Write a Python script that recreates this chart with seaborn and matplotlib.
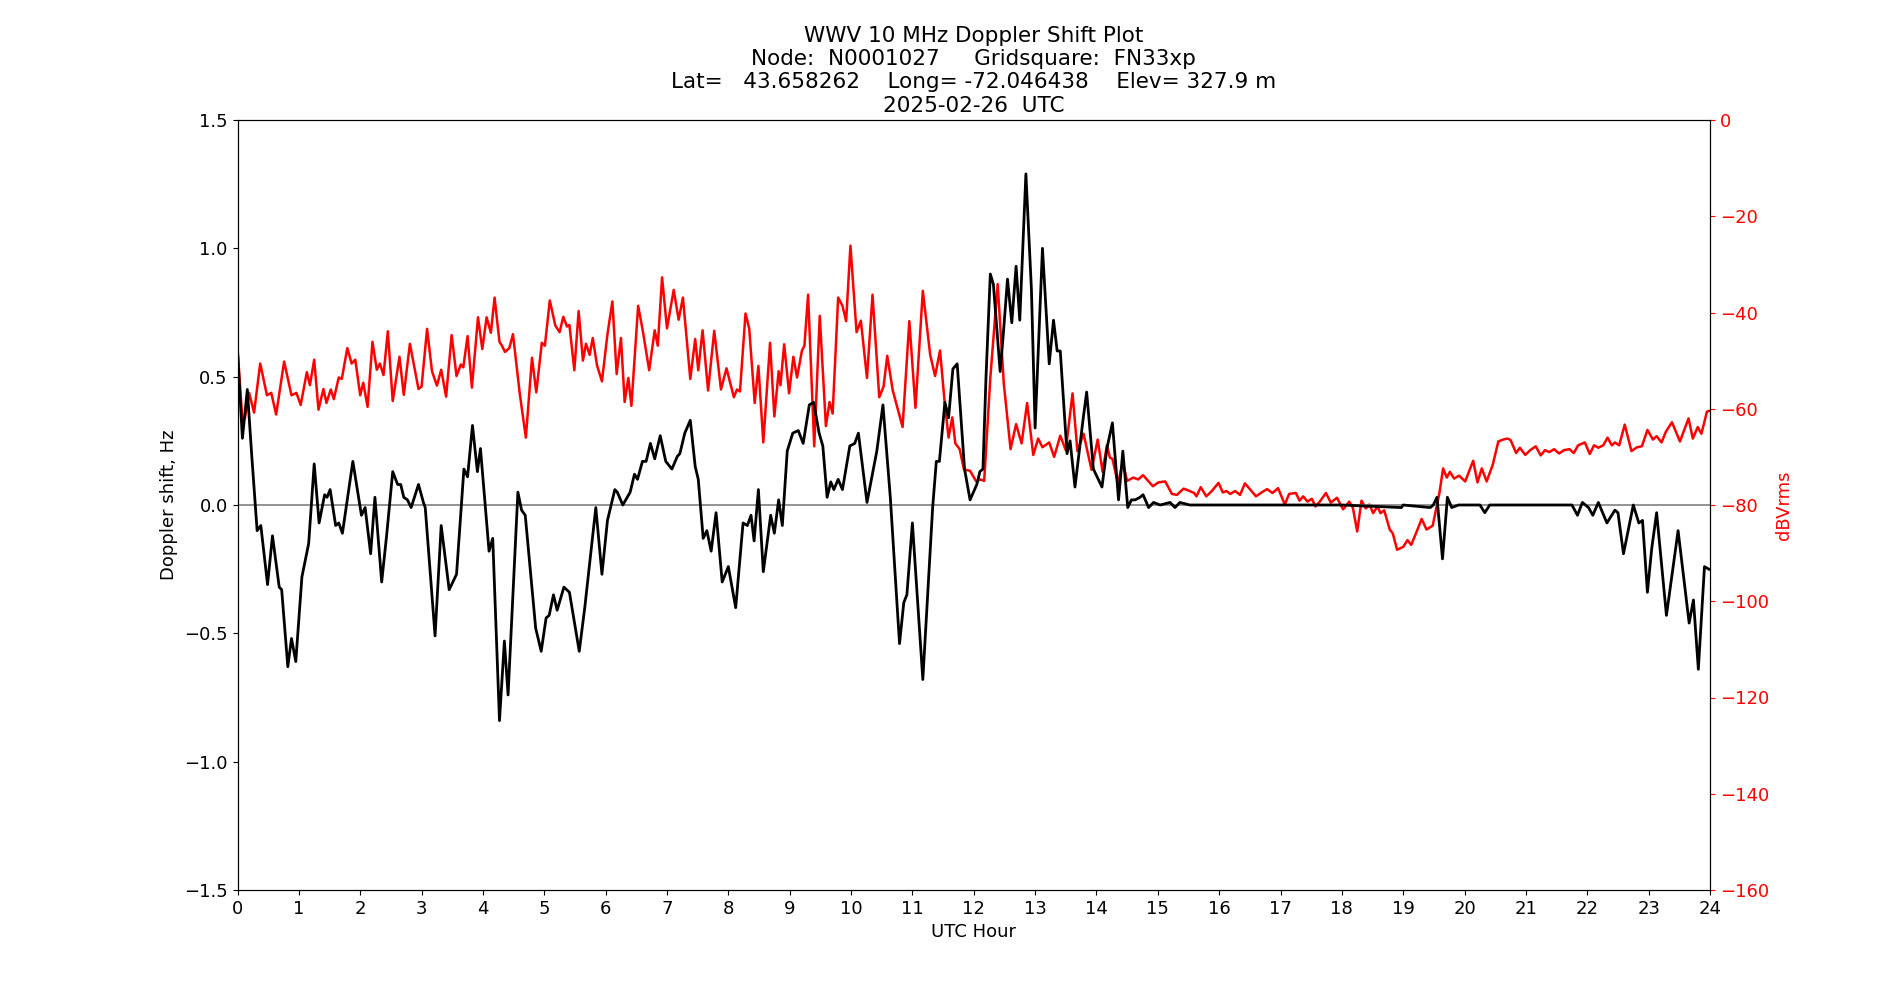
"""
WWV 10 MHz Doppler shift and received power, one day
"""
import matplotlib
matplotlib.use("Agg")
import matplotlib.pyplot as plt
import seaborn as sns
import pandas as pd

# Doppler shift (Hz) vs UTC hour
doppler_hours = [
    0.0, 0.08, 0.16, 0.23, 0.32, 0.38, 0.49, 0.57, 0.68, 0.72, 0.82, 0.88, 0.95, 1.05, 1.16,
    1.25, 1.33, 1.42, 1.46, 1.51, 1.6, 1.65, 1.71, 1.88, 2.02, 2.08, 2.17, 2.24, 2.35, 2.43,
    2.53, 2.61, 2.66, 2.71, 2.77, 2.83, 2.95, 3.03, 3.06, 3.22, 3.32, 3.45, 3.57, 3.69, 3.75,
    3.83, 3.91, 3.96, 4.1, 4.16, 4.27, 4.35, 4.41, 4.57, 4.63, 4.69, 4.86, 4.95, 5.03, 5.08,
    5.15, 5.21, 5.32, 5.41, 5.57, 5.66, 5.84, 5.94, 6.03, 6.15, 6.19, 6.28, 6.4, 6.47, 6.52,
    6.6, 6.66, 6.73, 6.8, 6.89, 6.98, 7.08, 7.17, 7.21, 7.29, 7.38, 7.46, 7.51, 7.59, 7.65,
    7.72, 7.8, 7.9, 8.0, 8.12, 8.24, 8.31, 8.37, 8.42, 8.49, 8.57, 8.69, 8.75, 8.82, 8.88,
    8.96, 9.05, 9.14, 9.22, 9.32, 9.39, 9.48, 9.54, 9.61, 9.67, 9.72, 9.79, 9.86, 9.98, 10.06,
    10.12, 10.26, 10.42, 10.52, 10.64, 10.79, 10.86, 10.91, 11.0, 11.17, 11.33, 11.39, 11.44,
    11.53, 11.59, 11.66, 11.73, 11.85, 11.94, 12.05, 12.1, 12.15, 12.2, 12.27, 12.32, 12.43,
    12.48, 12.55, 12.62, 12.69, 12.75, 12.85, 12.94, 13.0, 13.12, 13.23, 13.3, 13.36, 13.41,
    13.52, 13.57, 13.65, 13.78, 13.84, 13.95, 14.09, 14.17, 14.26, 14.36, 14.43, 14.51, 14.57,
    14.63, 14.71, 14.76, 14.85, 14.93, 15.04, 15.2, 15.28, 15.36, 15.52, 16.0, 17.0, 18.0,
    18.97, 19.0, 19.44, 19.49, 19.55, 19.64, 19.72, 19.79, 19.9, 20.25, 20.33, 20.41, 21.0,
    21.75, 21.84, 21.92, 22.02, 22.09, 22.18, 22.32, 22.45, 22.5, 22.59, 22.75, 22.84, 22.9,
    22.98, 23.05, 23.13, 23.29, 23.48, 23.66, 23.73, 23.81, 23.91, 23.98,
]
doppler_hz = [
    0.6, 0.26, 0.45, 0.2, -0.1, -0.08, -0.31, -0.12, -0.32, -0.33, -0.63, -0.52, -0.61, -0.28,
    -0.15, 0.16, -0.07, 0.04, 0.03, 0.06, -0.08, -0.07, -0.11, 0.17, -0.04, -0.01, -0.19, 0.03,
    -0.3, -0.12, 0.13, 0.08, 0.08, 0.03, 0.02, -0.01, 0.08, 0.01, -0.01, -0.51, -0.08, -0.33,
    -0.27, 0.14, 0.11, 0.31, 0.13, 0.22, -0.18, -0.13, -0.84, -0.53, -0.74, 0.05, -0.02, -0.04,
    -0.48, -0.57, -0.44, -0.43, -0.35, -0.41, -0.32, -0.34, -0.57, -0.4, -0.01, -0.27, -0.06,
    0.06, 0.05, 0.0, 0.05, 0.12, 0.1, 0.17, 0.17, 0.24, 0.18, 0.27, 0.17, 0.14, 0.19, 0.2,
    0.28, 0.33, 0.15, 0.1, -0.13, -0.1, -0.18, -0.03, -0.3, -0.24, -0.4, -0.07, -0.08, -0.04,
    -0.14, 0.06, -0.26, -0.04, -0.11, 0.02, -0.08, 0.21, 0.28, 0.29, 0.24, 0.39, 0.4, 0.28,
    0.23, 0.03, 0.09, 0.06, 0.1, 0.06, 0.23, 0.24, 0.28, 0.01, 0.21, 0.39, 0.03, -0.54, -0.38,
    -0.35, -0.07, -0.68, -0.01, 0.17, 0.17, 0.4, 0.34, 0.53, 0.55, 0.14, 0.02, 0.08, 0.13,
    0.14, 0.5, 0.9, 0.86, 0.52, 0.66, 0.88, 0.71, 0.93, 0.72, 1.29, 0.84, 0.3, 1.0, 0.55, 0.72,
    0.6, 0.6, 0.2, 0.25, 0.07, 0.33, 0.44, 0.14, 0.07, 0.22, 0.32, 0.02, 0.21, -0.01, 0.02,
    0.02, 0.03, 0.04, -0.01, 0.01, 0.0, 0.01, -0.01, 0.01, 0.0, 0.0, 0.0, 0.0, -0.01, 0.0,
    -0.01, 0.0, 0.03, -0.21, 0.03, -0.01, 0.0, 0.0, -0.03, 0.0, 0.0, 0.0, -0.04, 0.01, -0.01,
    -0.04, 0.01, -0.07, -0.02, -0.03, -0.19, 0.0, -0.07, -0.06, -0.34, -0.17, -0.03, -0.43,
    -0.1, -0.46, -0.37, -0.64, -0.24, -0.25,
]

# received power (dBVrms) vs UTC hour
power_hours = [
    0.0, 0.08, 0.12, 0.19, 0.27, 0.37, 0.48, 0.55, 0.63, 0.76, 0.88, 0.96, 1.03, 1.13, 1.18,
    1.25, 1.32, 1.4, 1.45, 1.52, 1.57, 1.65, 1.7, 1.79, 1.86, 1.92, 2.0, 2.05, 2.12, 2.2,
    2.27, 2.32, 2.38, 2.45, 2.53, 2.64, 2.71, 2.81, 2.95, 3.0, 3.09, 3.17, 3.25, 3.32, 3.4,
    3.49, 3.57, 3.64, 3.68, 3.75, 3.82, 3.92, 3.99, 4.06, 4.13, 4.19, 4.27, 4.31, 4.36, 4.43,
    4.49, 4.6, 4.7, 4.8, 4.87, 4.96, 5.01, 5.09, 5.18, 5.25, 5.31, 5.37, 5.41, 5.49, 5.56,
    5.63, 5.68, 5.74, 5.79, 5.86, 5.94, 6.03, 6.11, 6.18, 6.25, 6.31, 6.37, 6.42, 6.53, 6.61,
    6.71, 6.8, 6.85, 6.92, 7.0, 7.11, 7.19, 7.26, 7.38, 7.46, 7.51, 7.58, 7.67, 7.77, 7.88,
    7.97, 8.09, 8.14, 8.19, 8.28, 8.34, 8.43, 8.49, 8.57, 8.68, 8.75, 8.82, 8.85, 8.91, 8.99,
    9.06, 9.12, 9.2, 9.24, 9.3, 9.4, 9.49, 9.59, 9.65, 9.7, 9.79, 9.86, 9.92, 9.99, 10.09,
    10.16, 10.26, 10.35, 10.46, 10.53, 10.59, 10.68, 10.84, 10.95, 11.05, 11.17, 11.29, 11.37,
    11.45, 11.53, 11.59, 11.65, 11.7, 11.77, 11.84, 11.94, 12.04, 12.11, 12.17, 12.27, 12.39,
    12.49, 12.6, 12.69, 12.78, 12.87, 12.97, 13.05, 13.12, 13.23, 13.31, 13.41, 13.5, 13.61,
    13.69, 13.79, 13.92, 14.02, 14.1, 14.17, 14.22, 14.26, 14.35, 14.43, 14.5, 14.6, 14.68,
    14.76, 14.92, 15.01, 15.12, 15.23, 15.31, 15.42, 15.52, 15.59, 15.63, 15.7, 15.79, 15.88,
    15.99, 16.06, 16.12, 16.18, 16.26, 16.34, 16.42, 16.5, 16.6, 16.69, 16.78, 16.87, 16.96,
    17.07, 17.14, 17.25, 17.31, 17.37, 17.44, 17.51, 17.57, 17.64, 17.74, 17.82, 17.92, 18.02,
    18.12, 18.18, 18.25, 18.32, 18.39, 18.45, 18.51, 18.58, 18.63, 18.69, 18.78, 18.83, 18.9,
    19.0, 19.07, 19.13, 19.22, 19.3, 19.38, 19.48, 19.59, 19.65, 19.71, 19.76, 19.83, 19.91,
    20.01, 20.14, 20.21, 20.28, 20.36, 20.46, 20.55, 20.63, 20.7, 20.75, 20.84, 20.9, 20.99,
    21.07, 21.16, 21.24, 21.31, 21.38, 21.46, 21.54, 21.62, 21.71, 21.78, 21.85, 21.96, 22.04,
    22.11, 22.18, 22.26, 22.33, 22.4, 22.45, 22.52, 22.61, 22.72, 22.81, 22.89, 22.98, 23.07,
    23.13, 23.21, 23.28, 23.38, 23.51, 23.65, 23.72, 23.8, 23.86, 23.95, 24.0,
]
power_db = [
    -47.3, -62.4, -62.0, -56.7, -60.8, -50.6, -57.2, -56.7, -61.2, -50.2, -57.2, -56.7, -59.2,
    -52.4, -55.1, -49.8, -60.2, -55.9, -58.8, -56.0, -58.0, -53.5, -53.8, -47.4, -50.6, -49.8,
    -57.2, -54.6, -59.6, -46.1, -51.9, -50.6, -53.0, -43.9, -58.4, -49.2, -57.1, -46.5, -55.9,
    -55.4, -43.4, -52.2, -55.2, -51.9, -57.5, -44.7, -53.2, -50.8, -51.4, -44.9, -55.6, -41.0,
    -47.6, -41.0, -44.2, -36.9, -46.1, -46.9, -48.2, -47.4, -44.5, -56.8, -66.0, -49.4, -56.6,
    -46.3, -46.9, -37.5, -42.7, -44.1, -40.9, -42.9, -42.6, -52.0, -39.7, -50.0, -46.5, -48.8,
    -45.3, -51.0, -54.3, -44.5, -37.7, -52.8, -45.3, -58.6, -53.6, -59.4, -38.6, -44.1, -52.0,
    -43.7, -46.9, -32.7, -43.3, -35.3, -41.5, -36.9, -53.8, -45.5, -52.0, -43.7, -56.2, -43.8,
    -56.0, -51.6, -57.6, -56.0, -56.4, -40.2, -43.3, -58.8, -51.1, -67.0, -46.3, -61.6, -52.2,
    -55.1, -46.6, -56.8, -49.2, -53.5, -47.9, -46.9, -36.3, -67.8, -40.7, -63.6, -58.6, -61.0,
    -36.9, -38.6, -41.8, -26.1, -44.1, -41.7, -53.6, -36.3, -57.6, -55.4, -49.0, -56.2, -63.8,
    -41.8, -59.8, -35.5, -48.8, -53.2, -47.9, -59.2, -66.0, -61.8, -67.2, -68.4, -72.6, -72.9,
    -75.1, -74.7, -75.0, -53.6, -34.1, -54.8, -68.4, -63.2, -67.2, -58.8, -69.6, -66.2, -68.0,
    -67.0, -70.0, -65.6, -68.6, -56.8, -68.8, -65.2, -72.7, -66.4, -73.1, -67.6, -70.2, -70.4,
    -75.5, -71.2, -75.0, -74.3, -74.7, -73.8, -76.1, -75.3, -75.1, -77.7, -77.9, -76.6, -77.1,
    -77.5, -78.2, -76.3, -78.2, -77.1, -75.4, -77.4, -77.1, -77.7, -77.1, -77.9, -75.5, -76.7,
    -78.2, -77.4, -76.7, -77.5, -76.5, -79.9, -77.7, -77.5, -79.1, -78.2, -79.3, -78.7, -80.3,
    -79.3, -77.5, -79.5, -78.5, -80.9, -79.3, -80.6, -85.5, -79.1, -80.7, -79.9, -81.7, -80.3,
    -81.7, -81.1, -85.1, -85.9, -89.3, -88.7, -87.3, -88.3, -85.5, -82.9, -85.1, -84.3, -77.5,
    -72.4, -74.3, -73.1, -74.5, -73.9, -75.1, -70.8, -75.3, -72.4, -75.1, -71.6, -66.8, -66.4,
    -66.2, -66.5, -69.2, -68.1, -69.6, -68.6, -67.8, -69.7, -68.6, -69.0, -68.4, -69.3, -68.6,
    -68.4, -69.2, -67.6, -67.0, -69.4, -67.6, -68.1, -67.6, -66.0, -67.6, -67.0, -67.6, -63.3,
    -68.8, -68.0, -67.8, -64.4, -66.4, -65.7, -67.0, -64.8, -62.8, -66.8, -62.0, -66.2, -63.8,
    -65.2, -60.6, -60.4,
]

doppler = pd.DataFrame({"hour": doppler_hours, "shift": doppler_hz})
power = pd.DataFrame({"hour": power_hours, "dbv": power_db})

title = ("WWV 10 MHz Doppler Shift Plot\n"
         "Node:  N0001027     Gridsquare:  FN33xp\n"
         "Lat=   43.658262    Long= -72.046438    Elev= 327.9 m\n"
         "2025-02-26  UTC")

fig, ax = plt.subplots(figsize=(19, 10), dpi=100)
ax2 = ax.twinx()

ax.axhline(0, color="grey", linewidth=1.2, zorder=1)
sns.lineplot(data=doppler, x="hour", y="shift", ax=ax, color="black", linewidth=2, zorder=3)
sns.lineplot(data=power, x="hour", y="dbv", ax=ax2, color="red", linewidth=1.8)

# doppler trace drawn on top of power trace
ax.set_zorder(ax2.get_zorder() + 1)
ax.patch.set_visible(False)

ax.set_xlim(0, 24)
ax.set_xticks(range(0, 25))
ax.set_ylim(-1.5, 1.5)
ax2.set_ylim(-160, 0)

ax.set_xlabel("UTC Hour", fontsize=13)
ax.set_ylabel("Doppler shift, Hz", fontsize=13)
ax2.set_ylabel("dBVrms", color="red", fontsize=13)
ax.tick_params(labelsize=13)
ax2.tick_params(axis="y", labelsize=13, colors="red")
ax2.spines["right"].set_color("black")
ax.set_title(title, fontsize=15.5)

fig.savefig("out.png", dpi=100)
